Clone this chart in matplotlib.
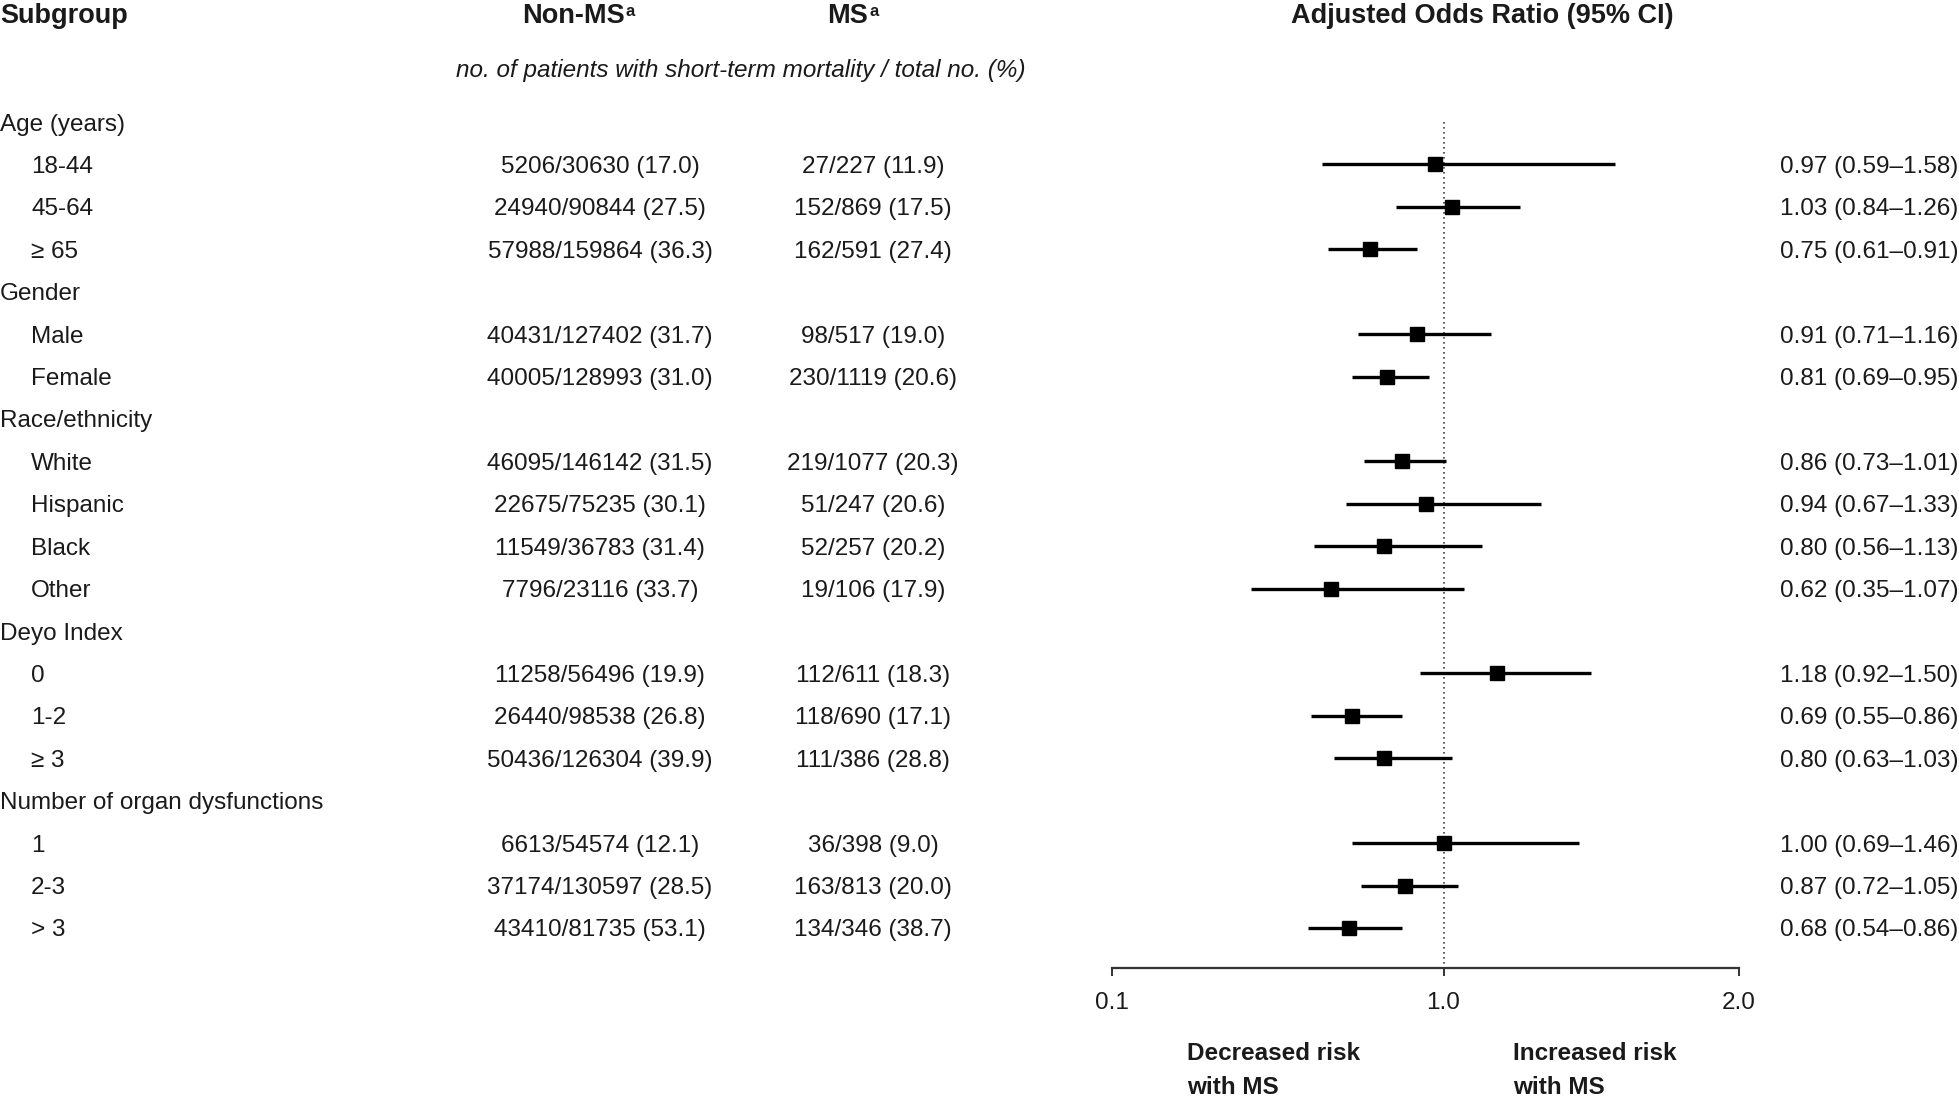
import matplotlib
matplotlib.use("Agg")
import matplotlib.pyplot as plt

plt.rcParams['font.family'] = ['Liberation Sans', 'DejaVu Sans']

# subgroup table (group headers have no numbers)
groups = ["Age (years)", "Gender", "Race/ethnicity", "Deyo Index",
          "Number of organ dysfunctions"]
subgroups = [
    ["18-44", "45-64", "\u2265 65"],
    ["Male", "Female"],
    ["White", "Hispanic", "Black", "Other"],
    ["0", "1-2", "\u2265 3"],
    ["1", "2-3", "> 3"],
]

non_ms_events = [5206, 24940, 57988, 40431, 40005, 46095, 22675, 11549, 7796,
                 11258, 26440, 50436, 6613, 37174, 43410]
non_ms_total = [30630, 90844, 159864, 127402, 128993, 146142, 75235, 36783, 23116,
                56496, 98538, 126304, 54574, 130597, 81735]
non_ms_pct = [17.0, 27.5, 36.3, 31.7, 31.0, 31.5, 30.1, 31.4, 33.7,
              19.9, 26.8, 39.9, 12.1, 28.5, 53.1]

ms_events = [27, 152, 162, 98, 230, 219, 51, 52, 19, 112, 118, 111, 36, 163, 134]
ms_total = [227, 869, 591, 517, 1119, 1077, 247, 257, 106, 611, 690, 386, 398, 813, 346]
ms_pct = [11.9, 17.5, 27.4, 19.0, 20.6, 20.3, 20.6, 20.2, 17.9,
          18.3, 17.1, 28.8, 9.0, 20.0, 38.7]

odds_ratio = [0.97, 1.03, 0.75, 0.91, 0.81, 0.86, 0.94, 0.80, 0.62,
              1.18, 0.69, 0.80, 1.00, 0.87, 0.68]
ci_low = [0.59, 0.84, 0.61, 0.71, 0.69, 0.73, 0.67, 0.56, 0.35,
          0.92, 0.55, 0.63, 0.69, 0.72, 0.54]
ci_high = [1.58, 1.26, 0.91, 1.16, 0.95, 1.01, 1.33, 1.13, 1.07,
           1.50, 0.86, 1.03, 1.46, 1.05, 0.86]

axis_ticks = [-0.122, 1.0, 2.0]
axis_labels = ["0.1", "1.0", "2.0"]

# layout (pixels)
W, H = 1959, 1098
row0, gap = 122, 42.42
tdy = 2.5  # text sits a touch lower than the marks
fs, hfs = 17.5, 19.5
col = '#1a1a1a'

fig = plt.figure(figsize=(W / 100, H / 100), dpi=100)
ax = fig.add_axes([0, 0, 1, 1])
ax.set_xlim(0, W)
ax.set_ylim(H, 0)
ax.axis('off')

# headers
ax.text(0, 16, "Subgroup", fontsize=hfs, fontweight='bold', va='center', color=col)
ax.text(625, 16, "Non-MS", fontsize=hfs, fontweight='bold', va='center', ha='right', color=col)
ax.text(626, 11, "a", fontsize=12, fontweight='bold', va='center', ha='left', color=col)
ax.text(868, 16, "MS", fontsize=hfs, fontweight='bold', va='center', ha='right', color=col)
ax.text(869, 11, "a", fontsize=12, fontweight='bold', va='center', ha='left', color=col)
ax.text(1482, 16, "Adjusted Odds Ratio (95% CI)", fontsize=hfs, fontweight='bold',
        va='center', ha='center', color=col)
ax.text(741, 70, "no. of patients with short-term mortality / total no. (%)",
        fontsize=fs, fontstyle='italic', va='center', ha='center', color=col)

# rows
row_y = []
r = 0
k = 0
for g, subs in zip(groups, subgroups):
    ax.text(0, row0 + r * gap + tdy, g, fontsize=fs, va='center', color=col)
    r += 1
    for s in subs:
        y = row0 + r * gap
        row_y.append(y)
        ty = y + tdy
        ax.text(31, ty, s, fontsize=fs, va='center', color=col)
        ax.text(600, ty, f"{non_ms_events[k]}/{non_ms_total[k]} ({non_ms_pct[k]:.1f})",
                fontsize=fs, va='center', ha='center', color=col)
        ax.text(873, ty, f"{ms_events[k]}/{ms_total[k]} ({ms_pct[k]:.1f})",
                fontsize=fs, va='center', ha='center', color=col)
        ax.text(1958, ty, f"{odds_ratio[k]:.2f} ({ci_low[k]:.2f}\u2013{ci_high[k]:.2f})",
                fontsize=fs, va='center', ha='right', color=col)
        r += 1
        k += 1

# forest panel
axis_y = 968
fx0, fx1 = 1112, 1739
fa = fig.add_axes([fx0 / W, 0, (fx1 - fx0) / W, 1])
fa.set_xlim(axis_ticks[0], axis_ticks[-1])
fa.set_ylim(H, 0)
fa.patch.set_visible(False)
for side in ['top', 'left', 'right']:
    fa.spines[side].set_visible(False)
fa.spines['bottom'].set_position(('data', axis_y))
fa.spines['bottom'].set_color('#333333')
fa.spines['bottom'].set_linewidth(1.6)
fa.set_yticks([])
fa.set_xticks(axis_ticks)
fa.set_xticklabels(axis_labels)
fa.tick_params(axis='x', direction='out', length=6, width=1.4, color='#333333',
               labelsize=fs, labelcolor=col, pad=11)

fa.vlines(1.0, row0, axis_y, colors='#444444', linestyles=(0, (1, 2)), lw=1.2)
fa.hlines(row_y, ci_low, ci_high, colors='black', lw=2.4, clip_on=False)
fa.plot(odds_ratio, row_y, 's', color='black', markersize=10.3, clip_on=False)

# direction labels
for txt, x in [("Decreased risk", 1187), ("Increased risk", 1513)]:
    ax.text(x, 1054, txt, fontsize=fs, fontweight='bold', va='center', color=col)
    ax.text(x, 1088, "with MS", fontsize=fs, fontweight='bold', va='center', color=col)

fig.savefig("out.png", dpi=100)
